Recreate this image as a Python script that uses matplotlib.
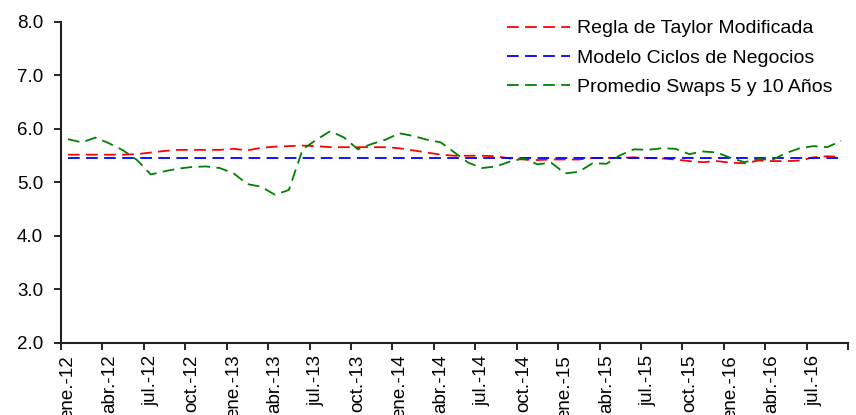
import matplotlib.pyplot as plt
import numpy as np

# monthly data ene.-12 .. sep.-16 (57 months)
tick_labels = ["ene.-12", "abr.-12", "jul.-12", "oct.-12", "ene.-13", "abr.-13",
               "jul.-13", "oct.-13", "ene.-14", "abr.-14", "jul.-14", "oct.-14",
               "ene.-15", "abr.-15", "jul.-15", "oct.-15", "ene.-16", "abr.-16",
               "jul.-16"]

regla_taylor = [5.52, 5.52, 5.52, 5.52, 5.52, 5.53, 5.56, 5.59, 5.61, 5.61,
                5.61, 5.61, 5.63, 5.60, 5.65, 5.67, 5.68, 5.69, 5.68, 5.66,
                5.66, 5.66, 5.66, 5.66, 5.64, 5.60, 5.56, 5.52, 5.50, 5.50,
                5.50, 5.49, 5.45, 5.43, 5.42, 5.43, 5.43, 5.43, 5.46, 5.46,
                5.46, 5.47, 5.46, 5.45, 5.43, 5.40, 5.38, 5.40, 5.37, 5.36,
                5.41, 5.40, 5.40, 5.41, 5.47, 5.49, 5.48]

modelo_ciclos = [5.46] * 57

swaps_5_10 = [5.81, 5.75, 5.84, 5.73, 5.60, 5.42, 5.15, 5.21, 5.26, 5.29,
              5.30, 5.27, 5.17, 4.97, 4.92, 4.77, 4.86, 5.62, 5.80, 5.96,
              5.84, 5.62, 5.72, 5.80, 5.92, 5.87, 5.80, 5.75, 5.56, 5.37,
              5.27, 5.30, 5.39, 5.45, 5.34, 5.37, 5.17, 5.20, 5.36, 5.35,
              5.51, 5.62, 5.61, 5.64, 5.63, 5.53, 5.58, 5.56, 5.46, 5.38,
              5.44, 5.42, 5.55, 5.64, 5.68, 5.66, 5.78]

plt.rcParams['font.family'] = ['Liberation Sans', 'DejaVu Sans']

fig = plt.figure(figsize=(8.56, 4.15), dpi=100)
ax = fig.add_axes([0.0713, 0.1735, 0.9194, 0.7735])

x = np.arange(len(swaps_5_10))
dash = (0, (6.5, 3.5))
ax.plot(x, regla_taylor, color='#FF0000', lw=1.3, linestyle=dash,
        label='Regla de Taylor Modificada')
ax.plot(x, modelo_ciclos, color='#0000FF', lw=1.3, linestyle=dash,
        label='Modelo Ciclos de Negocios')
ax.plot(x, swaps_5_10, color='#008000', lw=1.3, linestyle=dash,
        label='Promedio Swaps 5 y 10 Años')

ax.set_xlim(-0.5, len(x) - 0.5)
ax.set_ylim(2.0, 8.0)
ax.set_yticks(np.arange(2.0, 8.01, 1.0))
ax.set_yticklabels([f"{v:.1f}" for v in np.arange(2.0, 8.01, 1.0)], fontsize=13.5)

# ticks between categories, labels on categories
ax.set_xticks(np.arange(-0.5, len(x), 3))
ax.set_xticklabels([])
ax.set_xticks(np.arange(0, len(x), 3), minor=True)
ax.set_xticklabels(tick_labels, minor=True, rotation=90, fontsize=13.5)
ax.tick_params(axis='x', which='minor', length=0, pad=8.5)
ax.tick_params(axis='x', which='major', length=5, width=1.2, direction='out')
ax.tick_params(axis='y', length=5, width=1.2, direction='out', pad=8)

for s in ['top', 'right']:
    ax.spines[s].set_visible(False)
for s in ['left', 'bottom']:
    ax.spines[s].set_linewidth(1.5)
    ax.spines[s].set_color('#222222')

ax.legend(loc='upper right', bbox_to_anchor=(0.982, 0.971),
          bbox_transform=fig.transFigure, borderaxespad=0, frameon=False,
          fontsize=14, handlelength=3.2, handletextpad=0.4, labelspacing=0.6)

fig.savefig('out.png', dpi=100)
